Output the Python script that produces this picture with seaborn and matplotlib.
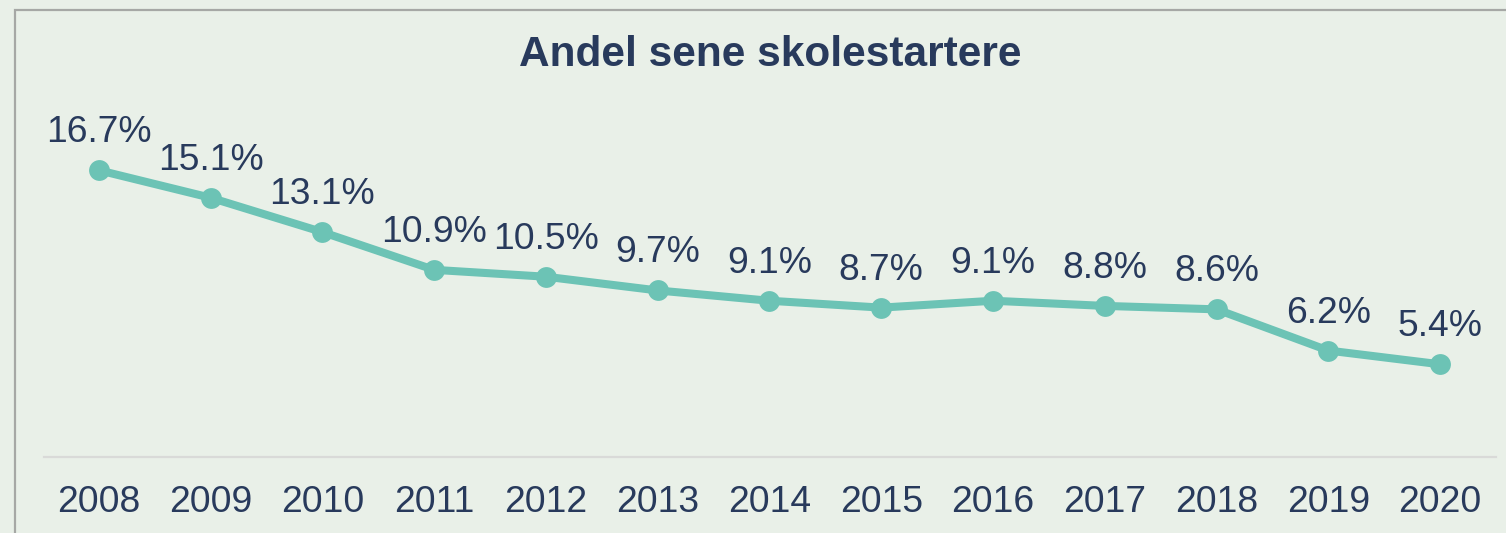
import matplotlib
matplotlib.use("Agg")
import matplotlib.pyplot as plt
import seaborn as sns
import pandas as pd
from matplotlib.patches import Rectangle

years = ["2008", "2009", "2010", "2011", "2012", "2013", "2014",
         "2015", "2016", "2017", "2018", "2019", "2020"]
values = [16.7, 15.1, 13.1, 10.9, 10.5, 9.7, 9.1, 8.7, 9.1, 8.8, 8.6, 6.2, 5.4]
title = "Andel sene skolestartere"

BG = "#E9F0E8"
NAVY = "#283A5C"
TEAL = "#6CC3B5"

sns.set_theme(style="white")
plt.rcParams["font.family"] = ["Liberation Sans", "DejaVu Sans"]

W, H = 1506, 533
fig = plt.figure(figsize=(W / 100, H / 100), dpi=100)
fig.patch.set_facecolor(BG)

# frame border
fig.patches.append(Rectangle((15 / W, -0.1), 2.0, 1 - 10 / H + 0.1,
                             transform=fig.transFigure, fill=False,
                             edgecolor="#A6A8A5", linewidth=1.6))

left, right = 44 / W, 1496 / W
bottom = (H - 457) / H
top_px = 110
ax = fig.add_axes([left, bottom, right - left, (457 - top_px) / H])
ax.set_facecolor(BG)

df = pd.DataFrame({"idx": range(len(years)), "val": values})
sns.lineplot(data=df, x="idx", y="val", ax=ax, color=TEAL, linewidth=5.8,
             marker="o", markersize=15, markeredgewidth=0, markerfacecolor=TEAL)

ax.set_xlim(-0.49, len(years) - 0.5)
ax.set_ylim(0, (457 - top_px) / 17.17)

for i, v in enumerate(values):
    ax.annotate(f"{v:.1f}%", (i, v), xytext=(0, 27), textcoords="offset points",
                ha="center", va="center", fontsize=26.8, color=NAVY,
                annotation_clip=False)

ax.set_xticks(range(len(years)))
ax.set_xticklabels(years, fontsize=26.8, color=NAVY)
ax.tick_params(axis="x", length=0, pad=20)
ax.set_yticks([])
ax.set_xlabel("")
ax.set_ylabel("")
for s in ["top", "left", "right"]:
    ax.spines[s].set_visible(False)
ax.spines["bottom"].set_color("#D9DAD8")
ax.spines["bottom"].set_linewidth(1.6)

fig.text(770 / W, 1 - 55 / H, title, ha="center", va="center",
         fontsize=30.5, fontweight="bold", color=NAVY)

fig.savefig("out.png", dpi=100, facecolor=BG)
